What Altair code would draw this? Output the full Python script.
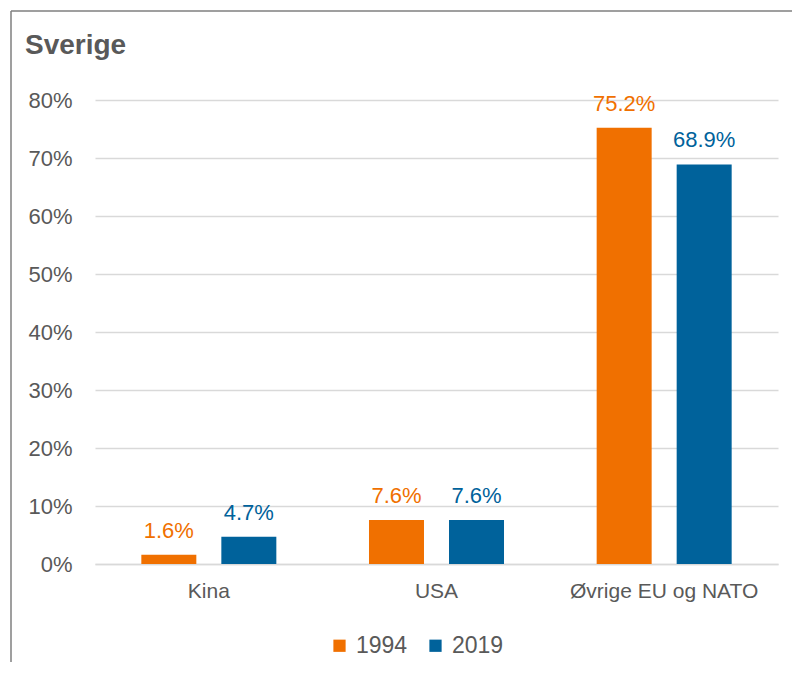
import altair as alt
import pandas as pd

regions = ["Kina", "USA", "Øvrige EU og NATO"]
years = ["1994", "2019"]
v1994 = [1.6, 7.6, 75.2]
v2019 = [4.7, 7.6, 68.9]
colors = ["#F07000", "#00629B"]
y_ticks = [0, 10, 20, 30, 40, 50, 60, 70, 80]
title_text = "Sverige"

rows = []
for r, a, b in zip(regions, v1994, v2019):
    rows.append({"Region": r, "Year": years[0], "Value": a})
    rows.append({"Region": r, "Year": years[1], "Value": b})
df = pd.DataFrame(rows)

FONT = "Liberation Sans"
GRAY = "#595959"

base = alt.Chart(df).transform_calculate(
    label="format(datum.Value, '.1f') + '%'"
).encode(
    x=alt.X("Region:N", sort=regions, title=None,
            scale=alt.Scale(paddingInner=0, paddingOuter=0),
            axis=alt.Axis(labelAngle=0, labelFontSize=21, labelColor=GRAY, labelFont=FONT,
                          labelPadding=16, labelLimit=0, ticks=False, domainColor="#D9D9D9",
                          domainWidth=1.5)),
    xOffset=alt.XOffset("Year:N", sort=years,
                        scale=alt.Scale(paddingInner=0.3125, paddingOuter=0.579)),
    y=alt.Y("Value:Q", title=None,
            scale=alt.Scale(domain=[0, 80], nice=False),
            axis=alt.Axis(values=y_ticks, labelExpr="datum.value + '%'", labelFontSize=22,
                          labelColor=GRAY, labelFont=FONT, labelPadding=23, ticks=False,
                          domain=False, gridColor="#D9D9D9", gridWidth=1.5)),
    color=alt.Color("Year:N", sort=years, scale=alt.Scale(domain=years, range=colors),
                    legend=alt.Legend(title=None, orient="none", legendX=233, legendY=534,
                                      direction="horizontal", symbolType="square",
                                      symbolSize=150, symbolStrokeWidth=0, labelFontSize=23,
                                      labelColor=GRAY, labelFont=FONT, labelOffset=5,
                                      columnPadding=16, padding=0)),
)

bars = base.mark_bar(size=55)
labels = base.mark_text(baseline="alphabetic", dy=-17, fontSize=22, font=FONT).encode(
    text="label:N"
)

frame_df = pd.DataFrame({"t": [title_text]})
left_line = alt.Chart(frame_df).mark_rule(color="#7F7F7F", strokeWidth=1.5).encode(
    x=alt.value(-84), y=alt.value(-89), y2=alt.value(580)
)
top_line = alt.Chart(frame_df).mark_rule(color="#7F7F7F", strokeWidth=1.5).encode(
    x=alt.value(-84), x2=alt.value(720), y=alt.value(-89)
)
title = alt.Chart(frame_df).mark_text(
    align="left", baseline="alphabetic", fontSize=28, font=FONT, fontWeight="bold", color=GRAY
).encode(x=alt.value(-70), y=alt.value(-46), text="t:N")

chart = alt.layer(bars, labels, left_line, top_line, title).properties(
    width=683,
    height=464,
    padding={"left": 87, "top": 92, "right": 14, "bottom": 98},
    autosize=alt.AutoSizeParams(type="none"),
).configure_view(stroke=None)

chart.save("out.html", embed_options={"renderer": "svg", "actions": False})
